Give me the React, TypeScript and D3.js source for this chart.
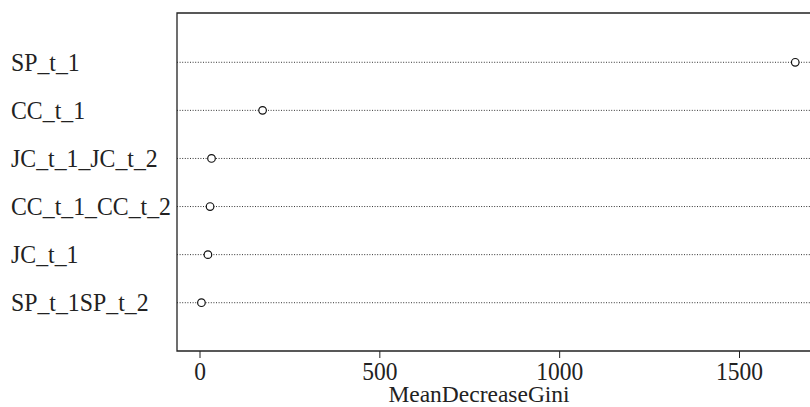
import React from "react";
import * as d3 from "d3";

const labels = ["SP_t_1SP_t_2", "JC_t_1", "CC_t_1_CC_t_2", "JC_t_1_JC_t_2", "CC_t_1", "SP_t_1"];
const values = [4, 22, 28, 32, 174, 1655];
const xTicks = [0, 500, 1000, 1500];
const xTitle = "MeanDecreaseGini";

const font = "'Liberation Serif', 'Times New Roman', serif";

function T({ x, y, size, anchor = "start", dy = "0", sy = 1.05, children }: any) {
  return (
    <text
      transform={`translate(${x},${y}) scale(1,${sy})`}
      dy={dy}
      textAnchor={anchor}
      style={{ fontFamily: font, fontSize: size }}
      fill="#222"
    >
      {children}
    </text>
  );
}

export default function App() {
  const W = 810, H = 407;
  const left = 177, top = 13, bottom = 351;
  const x = d3.scaleLinear().domain([0, 1500]).range([200, 739.5]);
  const y = d3.scaleLinear().domain([0, 7]).range([350.8, 14.2]);
  return (
    <svg width={W} height={H} style={{ position: "absolute", left: 0, top: 0, background: "#fff" }}>
      <rect x={0} y={0} width={W} height={H} fill="#fff" />
      {labels.map((l, i) => (
        <g key={l}>
          <line x1={left} x2={W} y1={y(i + 1)} y2={y(i + 1)} stroke="#333" strokeWidth={1} strokeDasharray="1,1.6" />
          <T x={11} y={y(i + 1)} size={23.8} sy={1.08} dy="0.33em">{l}</T>
        </g>
      ))}
      {values.map((v, i) => (
        <circle key={i} cx={x(v)} cy={y(i + 1)} r={3.8} fill="#fff" stroke="#111" strokeWidth={1.2} />
      ))}
      <path d={`M${W + 2},${top}H${left}V${bottom}H${W + 2}`} fill="none" stroke="#222" strokeWidth={1.3} />
      {xTicks.map((t) => (
        <g key={t}>
          <line x1={x(t)} x2={x(t)} y1={bottom} y2={bottom + 7} stroke="#222" strokeWidth={1} />
          <T x={x(t)} y={380} size={23.5} anchor="middle">{t}</T>
        </g>
      ))}
      <T x={479} y={402} size={23.5} sy={1.02} anchor="middle">{xTitle}</T>
    </svg>
  );
}
